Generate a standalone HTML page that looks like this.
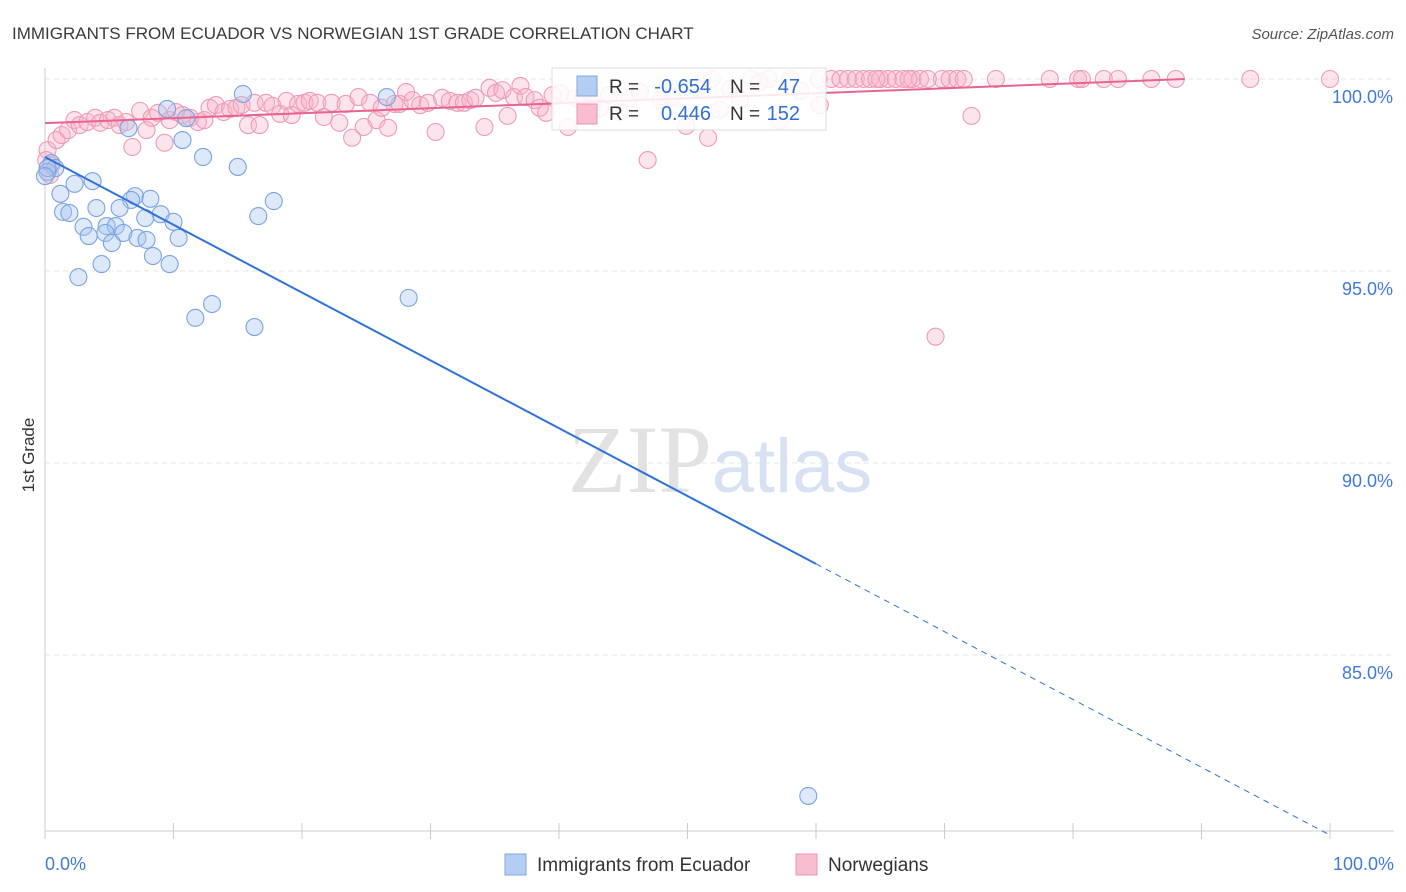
<!DOCTYPE html>
<html><head><meta charset="utf-8"><style>
body{margin:0;background:#fff;font-family:"Liberation Sans",sans-serif;}
svg{display:block}
</style></head><body>
<svg id="c" width="1406" height="892">
<text x="12" y="39" font-size="17" fill="#3a3a3a">IMMIGRANTS FROM ECUADOR VS NORWEGIAN 1ST GRADE CORRELATION CHART</text>
<text x="1394" y="39" font-size="15" fill="#555" text-anchor="end" font-style="italic">Source: ZipAtlas.com</text>
<text x="0" y="0" transform="translate(34,455) rotate(-90)" font-size="17" fill="#333" text-anchor="middle">1st Grade</text>
<text x="720" y="492" font-size="96" fill="#e2e2e2" text-anchor="middle" font-family="Liberation Serif">ZIP<tspan fill="#d6e2f3" font-family="Liberation Sans" font-size="76">atlas</tspan></text>
<g id="grid"></g><g id="pts"></g><g id="lines"></g>
<g>
<rect x="552" y="68" width="274" height="62" fill="#fff" fill-opacity="0.85" stroke="#ddd"/>
<rect x="577" y="76" width="20" height="20" fill="#b4cdf2" stroke="#7fa6e0"/>
<rect x="577" y="104" width="20" height="20" fill="#f8bed0" stroke="#ee91b0"/>
<text x="609" y="93" font-size="19" fill="#333">R =</text>
<text x="711" y="93" font-size="20" fill="#2f6fd6" text-anchor="end">-0.654</text>
<text x="730" y="93" font-size="19" fill="#333">N =</text>
<text x="800" y="93" font-size="20" fill="#2f6fd6" text-anchor="end">47</text>
<text x="609" y="120" font-size="19" fill="#333">R =</text>
<text x="711" y="120" font-size="20" fill="#2f6fd6" text-anchor="end">0.446</text>
<text x="730" y="120" font-size="19" fill="#333">N =</text>
<text x="800" y="120" font-size="20" fill="#2f6fd6" text-anchor="end">152</text>
</g>
<g>
<rect x="505" y="854" width="21" height="21" fill="#b4cdf2" stroke="#7fa6e0"/>
<text x="537" y="871" font-size="19" fill="#333">Immigrants from Ecuador</text>
<rect x="796" y="854" width="21" height="21" fill="#f8bed0" stroke="#ee91b0"/>
<text x="828" y="871" font-size="19" fill="#333">Norwegians</text>
</g>
<text x="45" y="870" font-size="18" fill="#3f7bd6">0.0%</text>
<text x="1394" y="870" font-size="18" fill="#3f7bd6" text-anchor="end">100.0%</text>
</svg>
<script>
const yTicks=[100,95,90,85];
const yTickLabels=["100.0%","95.0%","90.0%","85.0%"];
const xTicks=[0,10,20,30,40,50,60,70,80,90,100];
const blueX=[15.4,9.5,26.6,6.5,11.0,10.7,12.3,15.0,0.5,0.8,0.2,3.7,2.3,1.2,7.0,8.2,6.7,17.8,4.0,5.8,1.4,1.9,9.0,16.6,7.8,10.0,3.0,4.8,5.5,3.4,4.7,6.1,7.2,7.9,10.4,5.2,8.4,4.4,9.7,2.6,13.0,28.3,11.7,16.3,59.4,0.2,0.0];
const blueY=[99.61,99.22,99.53,98.72,98.98,98.41,97.97,97.71,97.81,97.68,97.58,97.34,97.27,97.01,96.95,96.88,96.85,96.82,96.64,96.64,96.54,96.51,96.48,96.43,96.38,96.28,96.15,96.17,96.17,95.91,95.99,95.99,95.86,95.81,95.86,95.73,95.39,95.18,95.18,94.84,94.14,94.30,93.78,93.54,81.33,97.68,97.47];
const pinkX=[0.2,0.5,0.9,1.3,1.8,2.3,2.7,3.3,3.9,4.3,4.9,5.4,5.8,6.3,6.8,7.4,7.9,8.3,8.8,9.3,9.7,10.2,10.7,11.3,11.9,12.4,12.8,13.3,13.9,14.4,14.9,15.3,15.8,16.3,16.7,17.2,17.7,18.3,18.8,19.2,19.7,20.2,20.6,21.2,21.7,22.3,22.9,23.4,23.9,24.4,24.8,25.3,25.8,26.2,26.7,27.2,27.6,28.1,28.6,29.2,29.8,30.4,30.9,31.5,32.1,32.6,33.1,33.5,34.2,34.6,35.1,35.6,36.0,36.5,37.0,37.4,38.1,38.5,39.0,39.5,40.1,40.7,41.3,41.9,42.6,43.2,43.9,44.7,45.5,46.9,47.9,48.8,49.9,50.7,51.6,52.5,54.1,55.0,55.6,57.2,58.0,58.8,60.2,60.3,61.2,61.9,62.5,63.1,63.7,64.2,65.0,65.6,66.2,66.8,67.5,68.1,69.3,69.8,70.4,71.0,71.5,72.1,74.0,78.2,80.4,80.7,82.4,83.5,86.1,88.0,93.8,100.0,64.7,67.2,68.7,56.3,51.9,53.3,46.3,42.4,0.4,0.1];
const pinkY=[98.15,97.76,98.41,98.54,98.67,98.93,98.80,98.88,98.99,98.86,98.93,98.99,98.80,98.88,98.23,99.17,98.67,98.99,99.12,98.34,98.93,99.14,99.06,98.99,98.88,98.93,99.25,99.32,99.14,99.22,99.25,99.32,98.80,99.38,98.80,99.38,99.30,99.09,99.43,99.06,99.35,99.38,99.43,99.38,99.01,99.38,98.86,99.35,98.47,99.53,98.75,99.38,98.93,99.25,98.73,99.35,99.35,99.66,99.45,99.32,99.38,98.62,99.51,99.43,99.38,99.38,99.45,99.51,98.75,99.77,99.64,99.71,99.04,99.53,99.82,99.53,99.45,99.25,99.12,99.58,99.64,98.75,99.51,99.56,99.35,99.25,99.58,99.14,99.51,97.89,99.45,99.53,98.78,99.77,98.47,99.19,99.45,100,99.92,98.91,100,99.69,100,99.32,100,100,100,100,100,100,100,100,100,100,100,100,93.29,100,100,100,100,99.04,100,100,100,100,100,100,100,100,100,100,100,100,100,100,100,99.74,99.66,99.66,97.50,97.89];
const blueLine=[97.97,80.31];
const pinkLine=[98.85,100];
const X=v=>45+v*12.85;
const Y=v=>79+(100-v)*38.4;
const NS="http://www.w3.org/2000/svg";
function mk(t,a,p){const e=document.createElementNS(NS,t);for(const k in a)e.setAttribute(k,a[k]);p.appendChild(e);return e;}
const g=document.getElementById('grid');
yTicks.forEach((t,i)=>{
 const l=mk('line',{x1:45,x2:1394,y1:Y(t),y2:Y(t),stroke:'#e4e4e4','stroke-dasharray':'5,4'},g);
 
 
 const tx=mk('text',{x:1393,y:Y(t)+24,'font-size':18,fill:'#3f7bd6','text-anchor':'end'},g);
 tx.textContent=yTickLabels[i];
 
 
});
const ax=mk('line',{x1:45,x2:1394,y1:831,y2:831,stroke:'#ccc'},g);


const ay=mk('line',{x1:45,x2:45,y1:68,y2:831,stroke:'#ccc'},g);


xTicks.forEach(t=>{const l=mk('line',{x1:X(t),x2:X(t),y1:823,y2:839,stroke:'#ccc'},g);
 
 });
const p=document.getElementById('pts');
pinkX.forEach((x,i)=>{const c=mk('circle',{cx:X(x),cy:Y(pinkY[i]),r:8.5,fill:'#f6b3c8','fill-opacity':0.35,stroke:'#ef9ab7','stroke-width':1.1},p);
 
 });
blueX.forEach((x,i)=>{const c=mk('circle',{cx:X(x),cy:Y(blueY[i]),r:8.5,fill:'#aac6ef','fill-opacity':0.4,stroke:'#7aa4e0','stroke-width':1.1},p);
 
 });
const L=document.getElementById('lines');
const bAt=v=>blueLine[0]+(blueLine[1]-blueLine[0])*v/100;
const b1=mk('line',{x1:X(0),y1:Y(bAt(0)),x2:X(60),y2:Y(bAt(60)),stroke:'#2f72d8','stroke-width':2},L);


const b2=mk('line',{x1:X(60),y1:Y(bAt(60)),x2:X(100),y2:Y(bAt(100)),stroke:'#2f72d8','stroke-width':1,'stroke-dasharray':'6,5'},L);


const pl=mk('line',{x1:X(0),y1:Y(pinkLine[0]),x2:X(88.7),y2:Y(pinkLine[1]),stroke:'#e8648f','stroke-width':2},L);


</script>
</body></html>
